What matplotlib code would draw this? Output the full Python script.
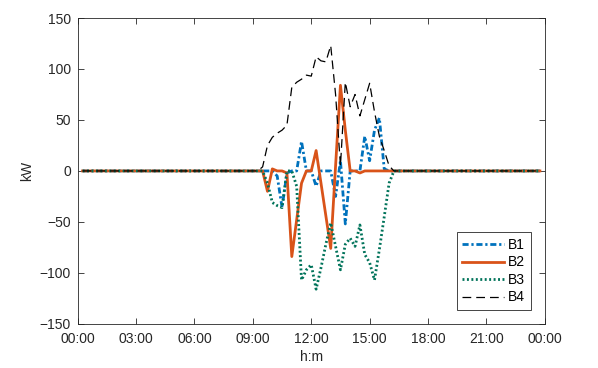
import numpy as np
import matplotlib
matplotlib.use("Agg")
import matplotlib.pyplot as plt

# ── Data: 15-min samples, power per bus (kW) ────────────
# outside the 09:15-16:15 window every series reads 0
TIME_START = 0.25          # 00:15
TIME_END = 23.75           # 23:45
STEP = 0.25                # 15 min

ACTIVE_START = 9.25        # 09:15
B1 = [0, 0, 0, 0, -5, -36, -2, 0, 0, 29, 0, 0, -15, 0, 0,
      0, -25, 10, -52, 0, 0, 0, 34, 10, 40, 52, 2, 0, 0]
B2 = [0, 0, -20, 2, 0, 0, -2, -84, -48, -12, 0, 0, 20, -12, -44,
      -76, 5, 84, 40, 0, 0, -2, 0, 0, 0, 0, 0, 0, 0]
B3 = [0, 0, -12, -31, -34, -36, 0, 0, -15, -107, -97, -92, -116, -95, -72,
      -51, -74, -97, -72, -66, -74, -53, -82, -90, -107, -77, -45, -12, 0]
B4 = [0, 4, 25, 33, 37, 40, 45, 82, 87, 90, 94, 93, 112, 108, 107,
      123, 75, 5, 87, 63, 75, 54, 70, 86, 58, 34, 20, 5, 0]

XTICKS = [0, 3, 6, 9, 12, 15, 18, 21, 24]
XTICK_LABELS = ["00:00", "03:00", "06:00", "09:00", "12:00",
                "15:00", "18:00", "21:00", "00:00"]
YTICKS = [-150, -100, -50, 0, 50, 100, 150]

# ── build full-day series ───────────────────────────────
t = np.arange(TIME_START, TIME_END + STEP / 2, STEP)
i0 = int(round((ACTIVE_START - TIME_START) / STEP))

def full_day(active):
    y = np.zeros_like(t)
    y[i0:i0 + len(active)] = active
    return y

plt.rcParams['font.family'] = ['Liberation Sans', 'DejaVu Sans']
plt.rcParams['font.size'] = 10

fig = plt.figure(figsize=(5.98, 3.68), dpi=100)
ax = fig.add_axes([0.130, 0.120, 0.781, 0.831])

ax.plot(t, full_day(B1), color='#0072BD', lw=2.0,
        linestyle=(0, (2.2, 1.0, 0.8, 1.0)), label='B1')
ax.plot(t, full_day(B2), color='#D95319', lw=2.0, linestyle='-', label='B2')
ax.plot(t, full_day(B3), color='#00735A', lw=2.0,
        linestyle=(0, (0.7, 0.9)), label='B3')
ax.plot(t, full_day(B4), color='black', lw=0.9,
        linestyle=(0, (7, 4)), label='B4')

ax.set_xlim(0, 24)
ax.set_ylim(-150, 150)
ax.set_xticks(XTICKS)
ax.set_xticklabels(XTICK_LABELS)
ax.set_yticks(YTICKS)
ax.set_xlabel('h:m', color='#262626', labelpad=3)
ax.set_ylabel('kW', color='#262626', labelpad=4)

# MATLAB-ish box: ticks inside on all sides
ax.tick_params(direction='in', top=True, right=True, length=4.5,
               width=0.6, colors='#262626', labelsize=10)
ax.tick_params(axis='x', pad=6)
ax.tick_params(axis='y', pad=5)
for s in ax.spines.values():
    s.set_color('#262626')
    s.set_linewidth(0.6)

leg = ax.legend(loc='lower right', handlelength=3.0, labelspacing=0.25,
                borderaxespad=1.0, fancybox=False, framealpha=1,
                edgecolor='#262626', fontsize=10, handletextpad=0.3,
                borderpad=0.4)
leg.get_frame().set_linewidth(0.6)

fig.savefig('out.png', dpi=100)
